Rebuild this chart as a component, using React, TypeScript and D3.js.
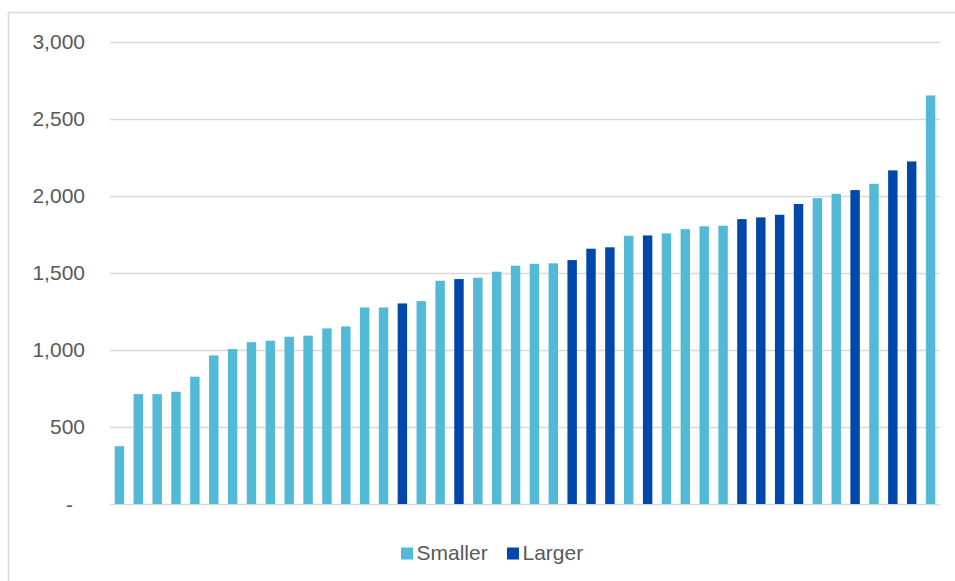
import React, { useEffect, useRef } from 'react';
import * as d3 from 'd3';

// values, sorted ascending as in the original
const values = [
  375, 713, 713, 728, 826, 964, 1005, 1050, 1059, 1085, 1092,
  1139, 1152, 1275, 1275, 1301, 1316, 1448, 1459, 1468, 1507, 1546,
  1558, 1561, 1582, 1656, 1665, 1740, 1742, 1755, 1783, 1801, 1805,
  1848, 1859, 1876, 1946, 1984, 2012, 2036, 2077, 2164, 2222, 2650,
];
// S = smaller, L = larger
const groups = [
  'S', 'S', 'S', 'S', 'S', 'S', 'S', 'S', 'S', 'S', 'S',
  'S', 'S', 'S', 'S', 'L', 'S', 'S', 'L', 'S', 'S', 'S',
  'S', 'S', 'L', 'L', 'L', 'S', 'L', 'S', 'S', 'S', 'S',
  'L', 'L', 'L', 'L', 'S', 'S', 'L', 'S', 'L', 'L', 'S',
];
const yTicks = [0, 500, 1000, 1500, 2000, 2500, 3000];
const legendItems = [
  { key: 'S', label: 'Smaller' },
  { key: 'L', label: 'Larger' },
];

const colors: Record<string, string> = {
  S: '#52bad6',
  L: '#0047ab',
};

const width = 955;
const height = 581;
const margin = { left: 110, right: 15, top: 41.5, bottom: 77 };
const font = '"Liberation Sans", Arial, sans-serif';
const textColor = '#595959';

export default function App() {
  const ref = useRef<SVGSVGElement>(null);

  useEffect(() => {
    const svg = d3.select(ref.current);
    svg.selectAll('*').remove();

    // chart frame (only left and top edges fall inside the picture)
    svg.append('rect')
      .attr('x', 8.5)
      .attr('y', 12.5)
      .attr('width', 1000)
      .attr('height', 700)
      .attr('fill', '#fff')
      .attr('stroke', '#d9d9d9')
      .attr('stroke-width', 1.5);

    const x = d3.scaleBand<number>()
      .domain(values.map((_, i) => i))
      .range([margin.left, width - margin.right])
      .paddingInner(0.5)
      .paddingOuter(0.25);

    const y = d3.scaleLinear()
      .domain([0, 3000])
      .range([height - margin.bottom, margin.top]);

    const grid = svg.append('g');
    grid.selectAll('line')
      .data(yTicks)
      .enter()
      .append('line')
      .attr('x1', margin.left)
      .attr('x2', width - margin.right)
      .attr('y1', d => Math.round(y(d)) + 0.5)
      .attr('y2', d => Math.round(y(d)) + 0.5)
      .attr('stroke', '#d9d9d9')
      .attr('stroke-width', 1.5);

    grid.selectAll('text')
      .data(yTicks)
      .enter()
      .append('text')
      .attr('x', d => (d === 0 ? 73 : 85))
      .attr('y', d => y(d) + 7.5)
      .attr('text-anchor', 'end')
      .attr('font-family', font)
      .attr('font-size', 21)
      .attr('fill', textColor)
      .text(d => (d === 0 ? '-' : d3.format(',')(d)));

    svg.append('g')
      .selectAll('rect')
      .data(values)
      .enter()
      .append('rect')
      .attr('x', (_, i) => x(i) as number)
      .attr('width', x.bandwidth())
      .attr('y', d => y(d))
      .attr('height', d => y(0) - y(d))
      .attr('fill', (_, i) => colors[groups[i]]);

    // legend
    const legend = svg.append('g').attr('font-family', font).attr('font-size', 21);
    const legendX = [401, 507];
    legendItems.forEach((item, i) => {
      legend.append('rect')
        .attr('x', legendX[i])
        .attr('y', 547.5)
        .attr('width', 12)
        .attr('height', 12)
        .attr('fill', colors[item.key]);
      legend.append('text')
        .attr('x', legendX[i] + 15.5)
        .attr('y', 559.5)
        .attr('fill', textColor)
        .text(item.label);
    });
  }, []);

  return (
    <svg
      ref={ref}
      width={width}
      height={height}
      style={{ position: 'absolute', left: 0, top: 0, display: 'block', background: '#fff' }}
    />
  );
}
